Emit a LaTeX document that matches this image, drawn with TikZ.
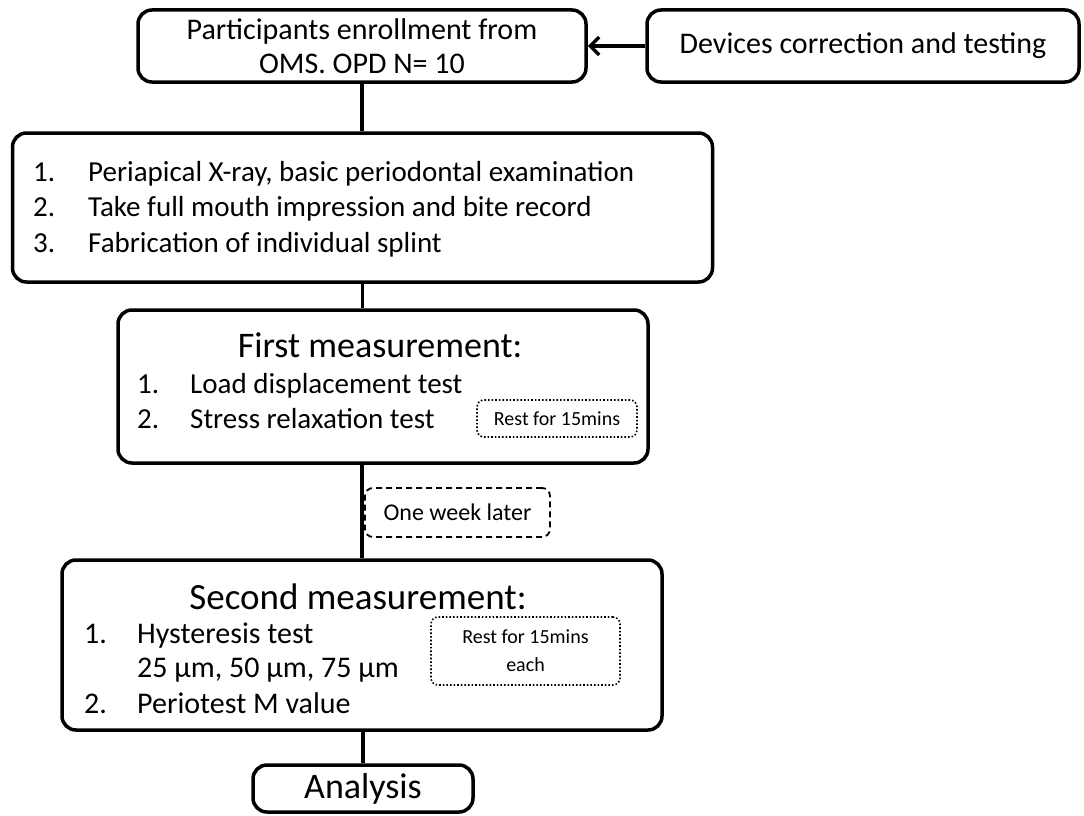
\documentclass[tikz,border=0pt]{standalone}
\usepackage{fontspec}
\setmainfont{Carlito}
\usetikzlibrary{arrows.meta}
\begin{document}
\begin{tikzpicture}[x=1pt,y=-1pt,
  box/.style={draw, line width=3.5pt, rounded corners=14pt, inner sep=0pt, align=center,
    font=\fontsize{30}{34}\selectfont},
  rest/.style={draw, line width=1.6pt, dotted, rounded corners=7pt, inner sep=0pt, align=center,
    font=\fontsize{20}{28}\selectfont},
  weekbox/.style={draw, line width=1.8pt, dash pattern=on 6pt off 4pt, rounded corners=8pt,
    inner sep=0pt, font=\fontsize{24}{28}\selectfont},
  conn/.style={line width=3.5pt},
  body/.style={font=\fontsize{29}{34}\selectfont, inner sep=0pt, anchor=base west},
  title/.style={font=\fontsize{36}{40}\selectfont, inner sep=0pt, anchor=base}
]
\useasboundingbox (0,0) rectangle (1084,816);

% boxes
\node[box, minimum width=448pt, minimum height=72pt] (enrol) at (362,46)
  {Participants enrollment from\\OMS. OPD N= 10};
\node[box, minimum width=432pt, minimum height=72pt] (dev) at (863,46)
  {Devices correction and testing};
\node[box, minimum width=700pt, minimum height=149pt] (prep) at (362.5,207.5) {};
\node[box, minimum width=530pt, minimum height=153pt] (first) at (383,386.5) {};
\node[rest, minimum width=160pt, minimum height=37pt] (rest1) at (557,418.5) {Rest for 15mins};
\node[weekbox, minimum width=185pt, minimum height=49pt] (week) at (457.5,512.5) {One week later};
\node[box, minimum width=600pt, minimum height=170pt] (second) at (362,645) {};
\node[rest, minimum width=189pt, minimum height=68pt] (rest2) at (525.5,651) {Rest for 15mins\\each};
\node[box, minimum width=220pt, minimum height=47pt, font=\fontsize{36}{40}\selectfont] (ana) at (363,788.5) {Analysis};

% texts of prep
\node[body] (p1n) at (33,181) {1.};
\node[body] (p1t) at (88,181) {Periapical X-ray, basic periodontal examination};
\node[body] (p2n) at (33,216.5) {2.};
\node[body] (p2t) at (88,216.5) {Take full mouth impression and bite record};
\node[body] (p3n) at (33,252) {3.};
\node[body] (p3t) at (88,252) {Fabrication of individual splint};

% texts of first
\node[title] (ft) at (380,357) {First measurement:};
\node[body] (f1n) at (137,393) {1.};
\node[body] (f1t) at (190,393) {Load displacement test};
\node[body] (f2n) at (137,428) {2.};
\node[body] (f2t) at (190,428) {Stress relaxation test};

% texts of second
\node[title, font=\fontsize{37}{40}\selectfont] (st) at (358,609) {Second measurement:};
\node[body, font=\fontsize{30}{34}\selectfont] (s1n) at (84,643) {1.};
\node[body, font=\fontsize{30}{34}\selectfont] (s1t) at (137,643) {Hysteresis test};
\node[body, font=\fontsize{30}{34}\selectfont] (s1u) at (137,677) {25 µm, 50 µm, 75 µm};
\node[body, font=\fontsize{30}{34}\selectfont] (s2n) at (84,713) {2.};
\node[body, font=\fontsize{30}{34}\selectfont] (s2t) at (137,713) {Periotest M value};

% connectors
\draw[conn, -{Straight Barb[length=9pt,width=18pt]}] (dev.west) -- (enrol.east);
\draw[conn] (enrol.south) -- (enrol.south |- prep.north);
\draw[conn] (prep.south) -- (prep.south |- first.north);
\draw[conn] (second.north |- first.south) -- (second.north);
\draw[conn] (ana.north |- second.south) -- (ana.north);
\end{tikzpicture}
\end{document}
